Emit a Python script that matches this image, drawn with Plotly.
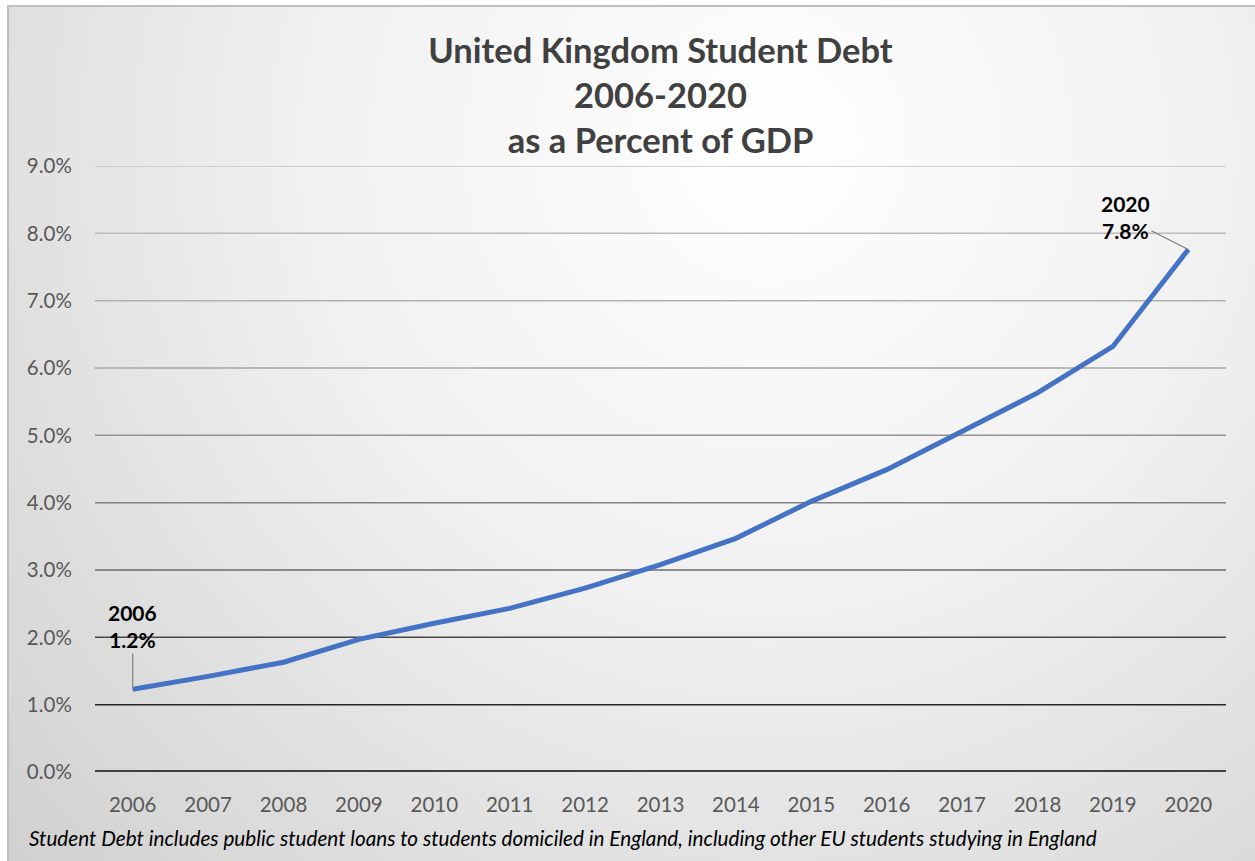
import base64
import plotly.graph_objects as go

# ---------------- data ----------------
years = ["2006", "2007", "2008", "2009", "2010", "2011", "2012", "2013",
         "2014", "2015", "2016", "2017", "2018", "2019", "2020"]
debt_pct_gdp = [1.23, 1.42, 1.63, 1.97, 2.21, 2.43, 2.73, 3.08,
                3.47, 4.02, 4.49, 5.06, 5.63, 6.32, 7.76]
y_ticks = [0, 1, 2, 3, 4, 5, 6, 7, 8, 9]
y_tick_labels = [f"{t:.1f}%" for t in y_ticks]
title_text = "United Kingdom Student Debt<br>2006-2020<br>as a Percent of GDP"
footnote_text = ("Student Debt includes public student loans to students domiciled in England, "
                 "including other EU students studying in England")

# ---------------- layout geometry ----------------
W, H = 1255, 861
ML, MR, MT, MB = 95, 29, 166, 89
PW, PH = W - ML - MR, H - MT - MB


def px_to_paper_x(px):
    return (px - ML) / PW


def px_to_paper_y(py):
    return (H - MB - py) / PH


# gridline colours get darker toward the bottom (style only)
grid_colors = {1: "#262626", 2: "#474747", 3: "#6a6a6a", 4: "#828282", 5: "#939393",
               6: "#a4a4a4", 7: "#b1b1b1", 8: "#bbbbbb", 9: "#c4c4c4"}

# radial gradient background as inline SVG
svg = (
    f'<svg xmlns="http://www.w3.org/2000/svg" width="{W - 8}" height="{H - 6}">'
    '<defs><radialGradient id="g" gradientUnits="userSpaceOnUse" cx="760" cy="140" r="1050">'
    '<stop offset="0" stop-color="#ffffff"/>'
    '<stop offset="0.45" stop-color="#f0f0f0"/>'
    '<stop offset="1" stop-color="#d0d0d0"/>'
    '</radialGradient></defs>'
    f'<rect x="0" y="0" width="{W - 8}" height="{H - 6}" fill="url(#g)"/></svg>'
)
svg_uri = "data:image/svg+xml;base64," + base64.b64encode(svg.encode()).decode()

fig = go.Figure()
fig.add_trace(go.Scatter(
    x=years, y=debt_pct_gdp, mode="lines",
    line=dict(color="#4472C4", width=5),
    hoverinfo="x+y", showlegend=False,
))

shapes = []
for t in y_ticks:
    if t == 0:
        continue
    shapes.append(dict(type="line", xref="paper", yref="y", x0=0, x1=1, y0=t, y1=t,
                       line=dict(color=grid_colors[t], width=1.5), layer="below"))
# baseline (0%)
shapes.append(dict(type="line", xref="paper", yref="y", x0=0, x1=1, y0=0, y1=0,
                   line=dict(color="#404040", width=4), layer="below"))
# chart border
shapes.append(dict(type="rect", xref="paper", yref="paper",
                   x0=px_to_paper_x(8), x1=px_to_paper_x(W + 20),
                   y0=px_to_paper_y(H + 20), y1=px_to_paper_y(6),
                   line=dict(color="#bfbfbf", width=2), layer="below"))

first_i, last_i = 0, len(years) - 1
label_font = dict(family="Lato", size=21, color="#000000")


def point_label(i):
    return "<b>" + years[i] + "<br>" + f"{debt_pct_gdp[i]:.1f}" + "%" + "</b>"


annotations = [
    dict(x=first_i, y=debt_pct_gdp[first_i], xref="x", yref="y",
         text=point_label(first_i),
         showarrow=True, arrowhead=0, arrowwidth=1.2, arrowcolor="#7f7f7f",
         ax=0, ay=-63, axref="pixel", ayref="pixel", standoff=0,
         font=label_font, align="center"),
    dict(x=last_i, y=debt_pct_gdp[last_i], xref="x", yref="y",
         text=point_label(last_i),
         showarrow=True, arrowhead=0, arrowwidth=1.2, arrowcolor="#7f7f7f",
         ax=-63, ay=-32, axref="pixel", ayref="pixel", standoff=0,
         font=label_font, align="center"),
    dict(x=px_to_paper_x(27), y=px_to_paper_y(838), xref="paper", yref="paper",
         xanchor="left", yanchor="middle", showarrow=False,
         text=f"<i>{footnote_text}</i>",
         font=dict(family="Lato", size=20.7, color="#000000")),
]

fig.update_layout(
    width=W, height=H,
    margin=dict(l=ML, r=MR, t=MT, b=MB, pad=0),
    paper_bgcolor="#ffffff",
    plot_bgcolor="rgba(0,0,0,0)",
    title=dict(text=f"<b>{title_text}</b>", x=0.5, xref="paper", xanchor="center",
               y=(H - 63) / H, yref="container", yanchor="middle",
               font=dict(family="Lato", size=34.5, color="#404040")),
    xaxis=dict(type="category", categoryorder="array", categoryarray=years,
               range=[-0.5, len(years) - 0.5], showgrid=False, zeroline=False, showline=False,
               ticks="outside", ticklen=14, tickcolor="rgba(0,0,0,0)",
               tickfont=dict(family="Lato", size=20.5, color="#595959"), fixedrange=True),
    yaxis=dict(range=[0, 9], tickmode="array", tickvals=y_ticks, ticktext=y_tick_labels,
               showgrid=False, zeroline=False, showline=False,
               ticks="outside", ticklen=18, tickcolor="rgba(0,0,0,0)",
               tickfont=dict(family="Lato", size=20.5, color="#595959"), fixedrange=True),
    shapes=shapes,
    annotations=annotations,
    images=[dict(source=svg_uri, xref="paper", yref="paper",
                 x=px_to_paper_x(8), y=px_to_paper_y(6),
                 sizex=(W - 8) / PW, sizey=(H - 6) / PH,
                 xanchor="left", yanchor="top", sizing="stretch", layer="below")],
)

fig.write_html("out.html")
